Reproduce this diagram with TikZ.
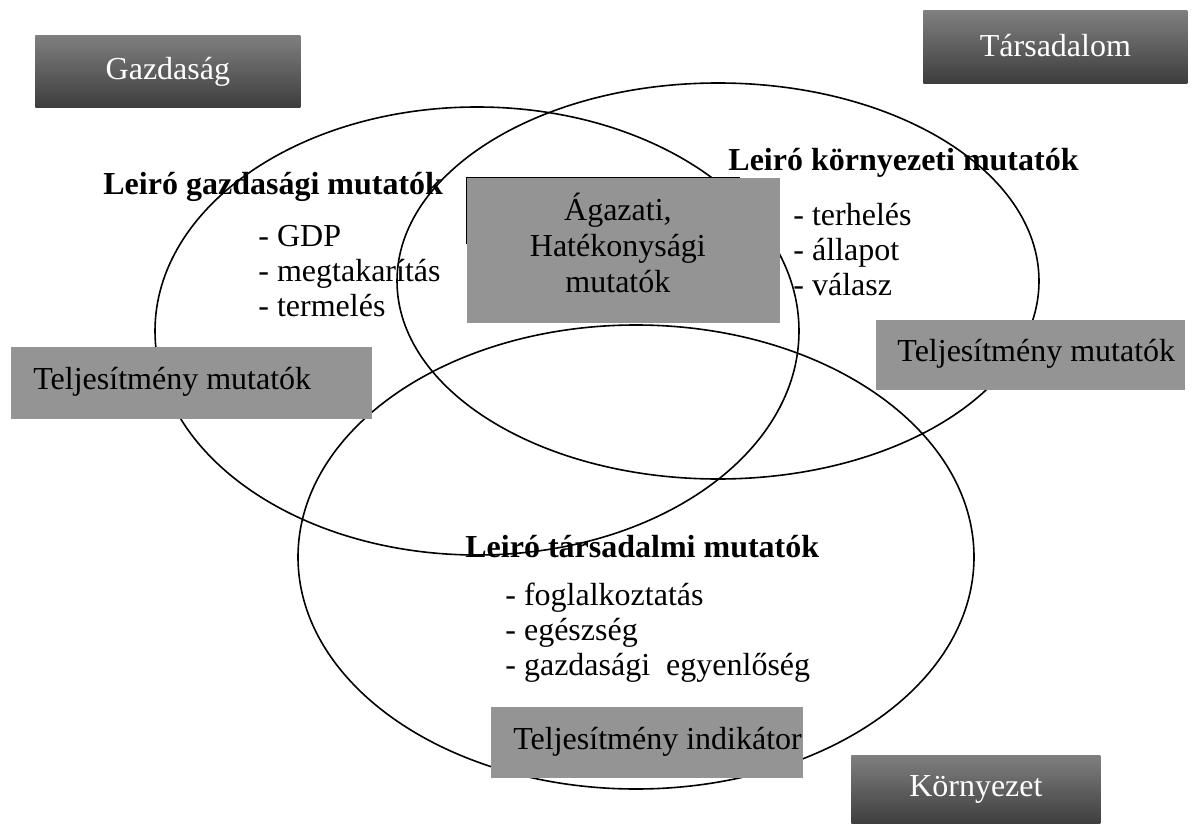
\documentclass[tikz,border=0pt]{standalone}
\usepackage{fontspec}
\setmainfont{Liberation Serif}
\tikzset{
  darkbox/.style={rectangle, anchor=north west, inner sep=0pt,
    top color=black!50, bottom color=black!76, text=white},
  greybox/.style={rectangle, anchor=north west, inner sep=0pt,
    fill=black!42, text=black},
  boxtext/.style={anchor=west, inner sep=0pt},
  title/.style={anchor=west, inner sep=0pt, font=\bfseries},
  items/.style={anchor=west, inner sep=0pt, align=left},
  ring/.style={line width=0.8pt}
}
\begin{document}
\fontsize{16}{17.5}\selectfont
\begin{tikzpicture}[x=0.5pt,y=-0.5pt]
    \useasboundingbox (0,0) rectangle (1200,824);

    % descriptive texts
    \node[title] (gtitle) at (103,187) {Leiró gazdasági mutatók};
    \node[items] (glist) at (258,271) {- GDP\\- megtakarítás\\- termelés};
    \node[title] (ktitle) at (728,163) {Leiró környezeti mutatók};
    \node[items] (klist) at (793,250) {- terhelés\\- állapot\\- válasz};
    \node[title] (ttitle) at (465,547) {Leiró társadalmi mutatók};
    \node[items] (tlist) at (505,633) {- foglalkoztatás\\- egészség\\- gazdasági\ \ egyenlőség};

    % the three circles
    \draw[ring] (477,331) ellipse [x radius=161pt, y radius=112pt];
    \draw[ring] (718,281) ellipse [x radius=160.5pt, y radius=99pt];
    \draw[ring] (636,557) ellipse [x radius=169pt, y radius=116pt];

    % grey boxes
    \draw[line width=0.5pt] (466,244) -- (466,178) -- (740,178);
    \node[greybox, minimum width=156.5pt, minimum height=72.5pt] (agazat) at (467,178) {};
    \node[inner sep=0pt, align=center, font=\fontsize{16}{18}\selectfont]
        (agazattxt) at ([xshift=-3pt, yshift=2.5pt]agazat.center) {Ágazati,\\Hatékonysági\\mutatók\vphantom{p}};
    \node[greybox, minimum width=180.5pt, minimum height=36pt] (gperf) at (11,347) {};
    \node[boxtext] (gperftxt) at ([xshift=11pt, yshift=1pt]gperf.west) {Teljesítmény mutatók};
    \node[greybox, minimum width=154.5pt, minimum height=35pt] (kperf) at (876,320) {};
    \node[boxtext] (kperftxt) at ([xshift=10.5pt, yshift=1pt]kperf.west) {Teljesítmény mutatók};
    \node[greybox, minimum width=156pt, minimum height=35.5pt] (tperf) at (491,707) {};
    \node[boxtext] (tperftxt) at ([xshift=11pt, yshift=0.5pt]tperf.west) {Teljesítmény indikátor};

    % dimension labels
    \node[darkbox, minimum width=132.5pt, minimum height=36pt] (gazd) at (35,35) {Gazdaság};
    \node[darkbox, minimum width=132pt, minimum height=36.5pt] (tars) at (923,10) {\raisebox{2pt}{Társadalom}};
    \node[darkbox, minimum width=124.5pt, minimum height=34.5pt] (korny) at (851,755) {Környezet};
\end{tikzpicture}
\end{document}
